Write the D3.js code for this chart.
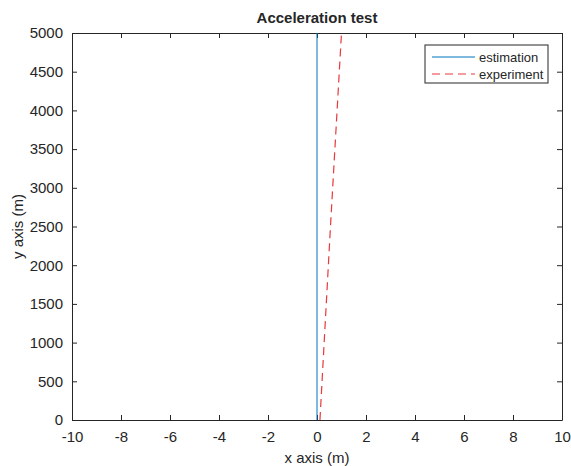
<!DOCTYPE html>
<html>
<head>
<meta charset="utf-8">
<script src="https://cdn.jsdelivr.net/npm/d3@7"></script>
<style>
  body { margin: 0; background: #fff; }
  text { font-family: "Liberation Sans", Arial, sans-serif; fill: #262626; }
</style>
</head>
<body>
<svg id="chart" width="571" height="466"></svg>
<script>
// chart data
var xTicks = [-10, -8, -6, -4, -2, 0, 2, 4, 6, 8, 10];
var yTicks = [0, 500, 1000, 1500, 2000, 2500, 3000, 3500, 4000, 4500, 5000];
var estimationX = [0, 0];
var estimationY = [0, 5000];
var experimentX = [0.12, 0.55, 1.0];
var experimentY = [0, 2500, 5000];
var seriesNames = ["estimation", "experiment"];

var margin = {top: 33, right: 9, bottom: 46, left: 72},
  width = 571 - margin.left - margin.right,
  height = 466 - margin.top - margin.bottom;

var svg = d3.select("#chart");
var g = svg.append("g").attr("transform", "translate(" + margin.left + "," + margin.top + ")");

var x = d3.scaleLinear().domain([-10, 10]).range([0, width]);
var y = d3.scaleLinear().domain([0, 5000]).range([height, 0]);

var fmt = function(d) { return String(d); };

// axes, MATLAB style ticks pointing in
function styleAxis(sel) {
  sel.select(".domain").attr("stroke", "#262626");
  sel.selectAll(".tick line").attr("stroke", "#262626");
  sel.selectAll(".tick text").style("font-size", "15px").attr("fill", "#262626");
}

g.append("g")
  .attr("transform", "translate(0," + height + ")")
  .call(d3.axisBottom(x).tickValues(xTicks).tickFormat(fmt).tickSizeInner(-5).tickSizeOuter(0).tickPadding(11))
  .call(styleAxis);
g.append("g")
  .call(d3.axisTop(x).tickValues(xTicks).tickSizeInner(-5).tickSizeOuter(0).tickFormat(""))
  .call(styleAxis);
g.append("g")
  .call(d3.axisLeft(y).tickValues(yTicks).tickFormat(fmt).tickSizeInner(-5).tickSizeOuter(0).tickPadding(9))
  .call(styleAxis);
g.append("g")
  .attr("transform", "translate(" + width + ",0)")
  .call(d3.axisRight(y).tickValues(yTicks).tickSizeInner(-5).tickSizeOuter(0).tickFormat(""))
  .call(styleAxis);

var line = d3.line().x(function(d) { return x(d[0]); }).y(function(d) { return y(d[1]); });

g.append("path")
  .datum(d3.zip(estimationX, estimationY))
  .attr("fill", "none")
  .attr("stroke", "#0072bd")
  .attr("stroke-width", 1)
  .attr("d", line);

g.append("path")
  .datum(d3.zip(experimentX, experimentY))
  .attr("fill", "none")
  .attr("stroke", "#e8393c")
  .attr("stroke-width", 1.2)
  .attr("stroke-dasharray", "8,5")
  .attr("d", line);

// title and labels
svg.append("text")
  .attr("x", margin.left + width / 2).attr("y", 23)
  .attr("text-anchor", "middle")
  .style("font-size", "15px").style("font-weight", "bold")
  .text("Acceleration test");

svg.append("text")
  .attr("x", margin.left + width / 2).attr("y", 463)
  .attr("text-anchor", "middle")
  .style("font-size", "15px")
  .text("x axis (m)");

svg.append("text")
  .attr("transform", "translate(23," + (margin.top + height / 2) + ") rotate(-90)")
  .attr("text-anchor", "middle")
  .style("font-size", "15px")
  .text("y axis (m)");

// legend
var legend = svg.append("g").attr("transform", "translate(425,45)");
legend.append("rect")
  .attr("width", 123).attr("height", 38)
  .attr("fill", "#fff").attr("stroke", "#262626").attr("stroke-width", 1);
var styles = [{c: "#0072bd", d: null}, {c: "#e8393c", d: "8,5"}];
seriesNames.forEach(function(name, i) {
  var yy = 12 + i * 17;
  legend.append("line")
    .attr("x1", 7).attr("x2", 50).attr("y1", yy).attr("y2", yy)
    .attr("stroke", styles[i].c)
    .attr("stroke-width", i ? 1.2 : 1)
    .attr("stroke-dasharray", styles[i].d);
  legend.append("text")
    .attr("x", 54).attr("y", yy + 5)
    .style("font-size", "13px")
    .text(name);
});
</script>
</body>
</html>
